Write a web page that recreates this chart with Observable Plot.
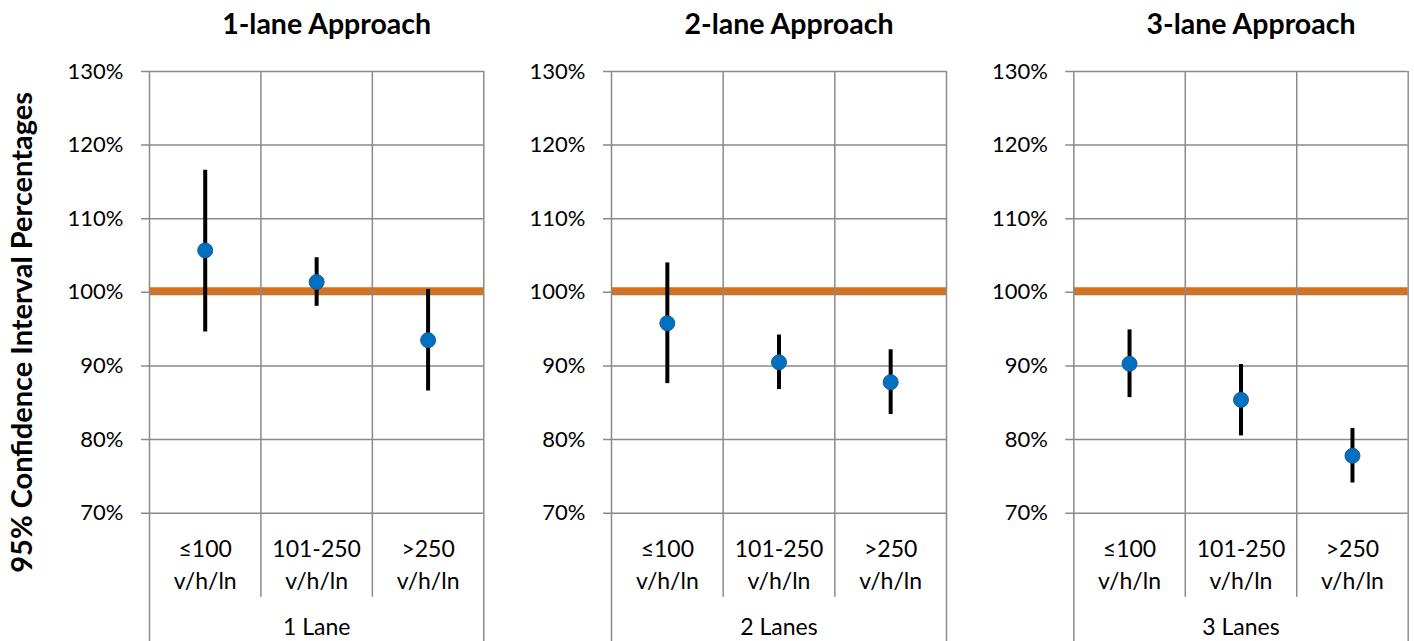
<!DOCTYPE html>
<html><head><meta charset="utf-8">
<script src="https://cdn.jsdelivr.net/npm/d3@7"></script>
<script src="https://cdn.jsdelivr.net/npm/@observablehq/plot@0.6"></script>
<style>
body{margin:0;background:#fff;}
#chart{position:relative;width:1414px;height:641px;overflow:hidden;background:#fff;font-family:Lato,sans-serif;}
#chart svg{position:absolute;top:0;}
</style></head><body><div id="chart"></div>
<script>
const categories = ["≤100\nv/h/ln", "101-250\nv/h/ln", ">250\nv/h/ln"];
const panelTitles = ["1-lane Approach", "2-lane Approach", "3-lane Approach"];
const groupLabels = ["1 Lane", "2 Lanes", "3 Lanes"];
const estimate1 = [105.7, 101.4, 93.5];
const lower1 = [94.6, 98.1, 86.6];
const upper1 = [116.6, 104.7, 100.4];
const estimate2 = [95.8, 90.5, 87.8];
const lower2 = [87.6, 86.8, 83.4];
const upper2 = [104.0, 94.2, 92.2];
const estimate3 = [90.3, 85.4, 77.8];
const lower3 = [85.7, 80.5, 74.1];
const upper3 = [94.9, 90.2, 81.5];
const yTicks = [70, 80, 90, 100, 110, 120, 130];
const referenceLevel = [100];
const yAxisTitle = "95% Confidence Interval Percentages";

const estimates = [estimate1, estimate2, estimate3];
const lowers = [lower1, lower2, lower3];
const uppers = [upper1, upper2, upper3];
const layout = [
  {left: 0, width: 500, ml: 149, mr: 16.7},
  {left: 500, width: 460, ml: 111, mr: 14},
  {left: 960, width: 454, ml: 113.3, mr: 6.3}
];
const grid = "#8a8a8a";
const chart = document.getElementById("chart");

for (let k = 0; k < 3; k++) {
  const rows = categories.map((c, i) => ({pos: i + 0.5, label: c, est: estimates[k][i], lo: lowers[k][i], hi: uppers[k][i]}));
  const n = categories.length;
  const inner = d3.range(1, n);
  const outer = [0, n];
  const L = layout[k];
  const marks = [
    Plot.ruleY(referenceLevel, {stroke: "#E46C0A", strokeWidth: 8, dy: -1}),
    Plot.ruleY(yTicks, {stroke: grid, strokeWidth: 1.5, insetLeft: -8}),
    Plot.ruleX(inner, {stroke: grid, strokeWidth: 1.5, insetBottom: -84}),
    Plot.ruleX(outer, {stroke: grid, strokeWidth: 1.5, insetBottom: -130}),
    Plot.ruleX(rows, {x: "pos", y1: "lo", y2: "hi", stroke: "black", strokeWidth: 4}),
    Plot.dot(rows, {x: "pos", y: "est", r: 7.5, fill: "#0070C0", stroke: "#1b5a98", strokeWidth: 1}),
    Plot.text(rows, {x: "pos", text: "label", frameAnchor: "bottom", lineAnchor: "top", dy: 22, fontSize: 23, lineHeight: 1.36, fill: "black"}),
    Plot.text([groupLabels[k]], {text: d => d, frameAnchor: "bottom", lineAnchor: "middle", dy: 114, fontSize: 23, fill: "black"}),
    Plot.text([panelTitles[k]], {text: d => d, frameAnchor: "top", lineAnchor: "middle", dy: -46.5, dx: 10, fontSize: 28.5, fontWeight: "bold", fill: "black"})
  ];
  if (k === 0) {
    marks.push(Plot.text([yAxisTitle], {text: d => d, frameAnchor: "left", textAnchor: "middle", rotate: -90, dx: -126.5, dy: 40, fontSize: 29, fontWeight: "bold", lineAnchor: "middle", fill: "black"}));
  }
  const svg = Plot.plot({
    width: L.width,
    height: 641,
    marginLeft: L.ml,
    marginRight: L.mr,
    marginTop: 71,
    marginBottom: 128.3,
    style: {fontFamily: "Lato, sans-serif", fontSize: "22px", color: "black", background: "white"},
    x: {domain: [0, n], axis: null},
    y: {domain: [70, 130], ticks: yTicks, tickFormat: d => d + "%", tickSize: 0, tickPadding: 26, label: null},
    marks
  });
  svg.style.left = L.left + "px";
  chart.appendChild(svg);
}
</script></body></html>
